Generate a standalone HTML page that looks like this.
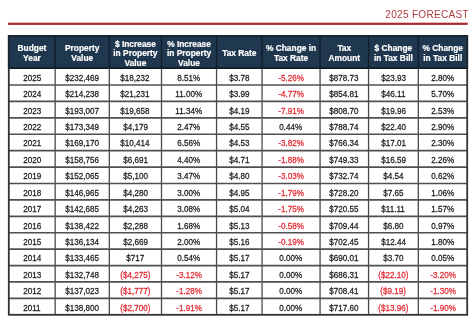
<!DOCTYPE html>
<html><head><meta charset="utf-8">
<style>
html,body{margin:0;padding:0;background:#fff;}
body{width:474px;height:326px;position:relative;overflow:hidden;will-change:transform;filter:blur(0.3px);font-family:"Liberation Sans",sans-serif;}
.t{position:absolute;right:5.0px;top:7.3px;font-size:10px;color:#b23a3f;letter-spacing:0.33px;line-height:16px;white-space:nowrap;}
.hd{position:absolute;left:8px;top:35.0px;width:459.5px;height:33.599999999999994px;background:#20384f;}
.c{position:absolute;display:flex;align-items:center;justify-content:center;text-align:center;white-space:nowrap;}
.h{color:#fff;font-weight:bold;-webkit-text-stroke:0.2px #fff;font-size:8.4px;line-height:9.5px;}
.d{color:#1e1e1e;font-size:8.25px;line-height:10px;padding-top:4.0px;box-sizing:border-box;-webkit-text-stroke:0.25px #1e1e1e;}
.d.r{-webkit-text-stroke:0.25px #e42a33;}
.r{color:#e42a33;}
.d span{display:inline-block;transform:scale(0.98,1.08);}
svg{position:absolute;left:0;top:0;}
</style></head><body>
<div class="t">2025 FORECAST</div>
<div class="hd"></div>

<div class="c h" style="left:8.80px;top:35.00px;width:46.35px;height:33.60px;padding-top:4.0px;box-sizing:border-box">Budget<br>Year</div>
<div class="c h" style="left:55.15px;top:35.00px;width:54.18px;height:33.60px;padding-top:4.0px;box-sizing:border-box">Property<br>Value</div>
<div class="c h" style="left:109.33px;top:35.00px;width:52.17px;height:33.60px;padding-top:4.0px;box-sizing:border-box">&#36; Increase<br>in Property<br>Value</div>
<div class="c h" style="left:161.50px;top:35.00px;width:55.05px;height:33.60px;padding-top:4.0px;box-sizing:border-box">% Increase<br>in Property<br>Value</div>
<div class="c h" style="left:216.55px;top:35.00px;width:45.52px;height:33.60px;padding-top:4.0px;box-sizing:border-box">Tax Rate</div>
<div class="c h" style="left:262.07px;top:35.00px;width:58.00px;height:33.60px;padding-top:4.0px;box-sizing:border-box">% Change in<br>Tax Rate</div>
<div class="c h" style="left:320.07px;top:35.00px;width:48.48px;height:33.60px;padding-top:4.0px;box-sizing:border-box">Tax<br>Amount</div>
<div class="c h" style="left:368.55px;top:35.00px;width:49.78px;height:33.60px;padding-top:4.0px;box-sizing:border-box">&#36; Change<br>in Tax Bill</div>
<div class="c h" style="left:418.33px;top:35.00px;width:48.87px;height:33.60px;padding-top:4.0px;box-sizing:border-box">% Change<br>in Tax Bill</div>
<div class="c d" style="left:8.80px;top:68.60px;width:46.35px;height:16.41px"><span>2025</span></div>
<div class="c d" style="left:55.15px;top:68.60px;width:54.18px;height:16.41px"><span>$232,469</span></div>
<div class="c d" style="left:109.33px;top:68.60px;width:52.17px;height:16.41px"><span>$18,232</span></div>
<div class="c d" style="left:161.50px;top:68.60px;width:55.05px;height:16.41px"><span>8.51%</span></div>
<div class="c d" style="left:216.55px;top:68.60px;width:45.52px;height:16.41px"><span>$3.78</span></div>
<div class="c d r" style="left:262.07px;top:68.60px;width:58.00px;height:16.41px"><span>-5.26%</span></div>
<div class="c d" style="left:320.07px;top:68.60px;width:48.48px;height:16.41px"><span>$878.73</span></div>
<div class="c d" style="left:368.55px;top:68.60px;width:49.78px;height:16.41px"><span>$23.93</span></div>
<div class="c d" style="left:418.33px;top:68.60px;width:48.87px;height:16.41px"><span>2.80%</span></div>
<div class="c d" style="left:8.80px;top:85.01px;width:46.35px;height:16.41px"><span>2024</span></div>
<div class="c d" style="left:55.15px;top:85.01px;width:54.18px;height:16.41px"><span>$214,238</span></div>
<div class="c d" style="left:109.33px;top:85.01px;width:52.17px;height:16.41px"><span>$21,231</span></div>
<div class="c d" style="left:161.50px;top:85.01px;width:55.05px;height:16.41px"><span>11.00%</span></div>
<div class="c d" style="left:216.55px;top:85.01px;width:45.52px;height:16.41px"><span>$3.99</span></div>
<div class="c d r" style="left:262.07px;top:85.01px;width:58.00px;height:16.41px"><span>-4.77%</span></div>
<div class="c d" style="left:320.07px;top:85.01px;width:48.48px;height:16.41px"><span>$854.81</span></div>
<div class="c d" style="left:368.55px;top:85.01px;width:49.78px;height:16.41px"><span>$46.11</span></div>
<div class="c d" style="left:418.33px;top:85.01px;width:48.87px;height:16.41px"><span>5.70%</span></div>
<div class="c d" style="left:8.80px;top:101.43px;width:46.35px;height:16.41px"><span>2023</span></div>
<div class="c d" style="left:55.15px;top:101.43px;width:54.18px;height:16.41px"><span>$193,007</span></div>
<div class="c d" style="left:109.33px;top:101.43px;width:52.17px;height:16.41px"><span>$19,658</span></div>
<div class="c d" style="left:161.50px;top:101.43px;width:55.05px;height:16.41px"><span>11.34%</span></div>
<div class="c d" style="left:216.55px;top:101.43px;width:45.52px;height:16.41px"><span>$4.19</span></div>
<div class="c d r" style="left:262.07px;top:101.43px;width:58.00px;height:16.41px"><span>-7.91%</span></div>
<div class="c d" style="left:320.07px;top:101.43px;width:48.48px;height:16.41px"><span>$808.70</span></div>
<div class="c d" style="left:368.55px;top:101.43px;width:49.78px;height:16.41px"><span>$19.96</span></div>
<div class="c d" style="left:418.33px;top:101.43px;width:48.87px;height:16.41px"><span>2.53%</span></div>
<div class="c d" style="left:8.80px;top:117.84px;width:46.35px;height:16.41px"><span>2022</span></div>
<div class="c d" style="left:55.15px;top:117.84px;width:54.18px;height:16.41px"><span>$173,349</span></div>
<div class="c d" style="left:109.33px;top:117.84px;width:52.17px;height:16.41px"><span>$4,179</span></div>
<div class="c d" style="left:161.50px;top:117.84px;width:55.05px;height:16.41px"><span>2.47%</span></div>
<div class="c d" style="left:216.55px;top:117.84px;width:45.52px;height:16.41px"><span>$4.55</span></div>
<div class="c d" style="left:262.07px;top:117.84px;width:58.00px;height:16.41px"><span>0.44%</span></div>
<div class="c d" style="left:320.07px;top:117.84px;width:48.48px;height:16.41px"><span>$788.74</span></div>
<div class="c d" style="left:368.55px;top:117.84px;width:49.78px;height:16.41px"><span>$22.40</span></div>
<div class="c d" style="left:418.33px;top:117.84px;width:48.87px;height:16.41px"><span>2.90%</span></div>
<div class="c d" style="left:8.80px;top:134.25px;width:46.35px;height:16.41px"><span>2021</span></div>
<div class="c d" style="left:55.15px;top:134.25px;width:54.18px;height:16.41px"><span>$169,170</span></div>
<div class="c d" style="left:109.33px;top:134.25px;width:52.17px;height:16.41px"><span>$10,414</span></div>
<div class="c d" style="left:161.50px;top:134.25px;width:55.05px;height:16.41px"><span>6.56%</span></div>
<div class="c d" style="left:216.55px;top:134.25px;width:45.52px;height:16.41px"><span>$4.53</span></div>
<div class="c d r" style="left:262.07px;top:134.25px;width:58.00px;height:16.41px"><span>-3.82%</span></div>
<div class="c d" style="left:320.07px;top:134.25px;width:48.48px;height:16.41px"><span>$766.34</span></div>
<div class="c d" style="left:368.55px;top:134.25px;width:49.78px;height:16.41px"><span>$17.01</span></div>
<div class="c d" style="left:418.33px;top:134.25px;width:48.87px;height:16.41px"><span>2.30%</span></div>
<div class="c d" style="left:8.80px;top:150.67px;width:46.35px;height:16.41px"><span>2020</span></div>
<div class="c d" style="left:55.15px;top:150.67px;width:54.18px;height:16.41px"><span>$158,756</span></div>
<div class="c d" style="left:109.33px;top:150.67px;width:52.17px;height:16.41px"><span>$6,691</span></div>
<div class="c d" style="left:161.50px;top:150.67px;width:55.05px;height:16.41px"><span>4.40%</span></div>
<div class="c d" style="left:216.55px;top:150.67px;width:45.52px;height:16.41px"><span>$4.71</span></div>
<div class="c d r" style="left:262.07px;top:150.67px;width:58.00px;height:16.41px"><span>-1.88%</span></div>
<div class="c d" style="left:320.07px;top:150.67px;width:48.48px;height:16.41px"><span>$749.33</span></div>
<div class="c d" style="left:368.55px;top:150.67px;width:49.78px;height:16.41px"><span>$16.59</span></div>
<div class="c d" style="left:418.33px;top:150.67px;width:48.87px;height:16.41px"><span>2.26%</span></div>
<div class="c d" style="left:8.80px;top:167.08px;width:46.35px;height:16.41px"><span>2019</span></div>
<div class="c d" style="left:55.15px;top:167.08px;width:54.18px;height:16.41px"><span>$152,065</span></div>
<div class="c d" style="left:109.33px;top:167.08px;width:52.17px;height:16.41px"><span>$5,100</span></div>
<div class="c d" style="left:161.50px;top:167.08px;width:55.05px;height:16.41px"><span>3.47%</span></div>
<div class="c d" style="left:216.55px;top:167.08px;width:45.52px;height:16.41px"><span>$4.80</span></div>
<div class="c d r" style="left:262.07px;top:167.08px;width:58.00px;height:16.41px"><span>-3.03%</span></div>
<div class="c d" style="left:320.07px;top:167.08px;width:48.48px;height:16.41px"><span>$732.74</span></div>
<div class="c d" style="left:368.55px;top:167.08px;width:49.78px;height:16.41px"><span>$4.54</span></div>
<div class="c d" style="left:418.33px;top:167.08px;width:48.87px;height:16.41px"><span>0.62%</span></div>
<div class="c d" style="left:8.80px;top:183.49px;width:46.35px;height:16.41px"><span>2018</span></div>
<div class="c d" style="left:55.15px;top:183.49px;width:54.18px;height:16.41px"><span>$146,965</span></div>
<div class="c d" style="left:109.33px;top:183.49px;width:52.17px;height:16.41px"><span>$4,280</span></div>
<div class="c d" style="left:161.50px;top:183.49px;width:55.05px;height:16.41px"><span>3.00%</span></div>
<div class="c d" style="left:216.55px;top:183.49px;width:45.52px;height:16.41px"><span>$4.95</span></div>
<div class="c d r" style="left:262.07px;top:183.49px;width:58.00px;height:16.41px"><span>-1.79%</span></div>
<div class="c d" style="left:320.07px;top:183.49px;width:48.48px;height:16.41px"><span>$728.20</span></div>
<div class="c d" style="left:368.55px;top:183.49px;width:49.78px;height:16.41px"><span>$7.65</span></div>
<div class="c d" style="left:418.33px;top:183.49px;width:48.87px;height:16.41px"><span>1.06%</span></div>
<div class="c d" style="left:8.80px;top:199.91px;width:46.35px;height:16.41px"><span>2017</span></div>
<div class="c d" style="left:55.15px;top:199.91px;width:54.18px;height:16.41px"><span>$142,685</span></div>
<div class="c d" style="left:109.33px;top:199.91px;width:52.17px;height:16.41px"><span>$4,263</span></div>
<div class="c d" style="left:161.50px;top:199.91px;width:55.05px;height:16.41px"><span>3.08%</span></div>
<div class="c d" style="left:216.55px;top:199.91px;width:45.52px;height:16.41px"><span>$5.04</span></div>
<div class="c d r" style="left:262.07px;top:199.91px;width:58.00px;height:16.41px"><span>-1.75%</span></div>
<div class="c d" style="left:320.07px;top:199.91px;width:48.48px;height:16.41px"><span>$720.55</span></div>
<div class="c d" style="left:368.55px;top:199.91px;width:49.78px;height:16.41px"><span>$11.11</span></div>
<div class="c d" style="left:418.33px;top:199.91px;width:48.87px;height:16.41px"><span>1.57%</span></div>
<div class="c d" style="left:8.80px;top:216.32px;width:46.35px;height:16.41px"><span>2016</span></div>
<div class="c d" style="left:55.15px;top:216.32px;width:54.18px;height:16.41px"><span>$138,422</span></div>
<div class="c d" style="left:109.33px;top:216.32px;width:52.17px;height:16.41px"><span>$2,288</span></div>
<div class="c d" style="left:161.50px;top:216.32px;width:55.05px;height:16.41px"><span>1.68%</span></div>
<div class="c d" style="left:216.55px;top:216.32px;width:45.52px;height:16.41px"><span>$5.13</span></div>
<div class="c d r" style="left:262.07px;top:216.32px;width:58.00px;height:16.41px"><span>-0.58%</span></div>
<div class="c d" style="left:320.07px;top:216.32px;width:48.48px;height:16.41px"><span>$709.44</span></div>
<div class="c d" style="left:368.55px;top:216.32px;width:49.78px;height:16.41px"><span>$6.80</span></div>
<div class="c d" style="left:418.33px;top:216.32px;width:48.87px;height:16.41px"><span>0.97%</span></div>
<div class="c d" style="left:8.80px;top:232.73px;width:46.35px;height:16.41px"><span>2015</span></div>
<div class="c d" style="left:55.15px;top:232.73px;width:54.18px;height:16.41px"><span>$136,134</span></div>
<div class="c d" style="left:109.33px;top:232.73px;width:52.17px;height:16.41px"><span>$2,669</span></div>
<div class="c d" style="left:161.50px;top:232.73px;width:55.05px;height:16.41px"><span>2.00%</span></div>
<div class="c d" style="left:216.55px;top:232.73px;width:45.52px;height:16.41px"><span>$5.16</span></div>
<div class="c d r" style="left:262.07px;top:232.73px;width:58.00px;height:16.41px"><span>-0.19%</span></div>
<div class="c d" style="left:320.07px;top:232.73px;width:48.48px;height:16.41px"><span>$702.45</span></div>
<div class="c d" style="left:368.55px;top:232.73px;width:49.78px;height:16.41px"><span>$12.44</span></div>
<div class="c d" style="left:418.33px;top:232.73px;width:48.87px;height:16.41px"><span>1.80%</span></div>
<div class="c d" style="left:8.80px;top:249.15px;width:46.35px;height:16.41px"><span>2014</span></div>
<div class="c d" style="left:55.15px;top:249.15px;width:54.18px;height:16.41px"><span>$133,465</span></div>
<div class="c d" style="left:109.33px;top:249.15px;width:52.17px;height:16.41px"><span>$717</span></div>
<div class="c d" style="left:161.50px;top:249.15px;width:55.05px;height:16.41px"><span>0.54%</span></div>
<div class="c d" style="left:216.55px;top:249.15px;width:45.52px;height:16.41px"><span>$5.17</span></div>
<div class="c d" style="left:262.07px;top:249.15px;width:58.00px;height:16.41px"><span>0.00%</span></div>
<div class="c d" style="left:320.07px;top:249.15px;width:48.48px;height:16.41px"><span>$690.01</span></div>
<div class="c d" style="left:368.55px;top:249.15px;width:49.78px;height:16.41px"><span>$3.70</span></div>
<div class="c d" style="left:418.33px;top:249.15px;width:48.87px;height:16.41px"><span>0.05%</span></div>
<div class="c d" style="left:8.80px;top:265.56px;width:46.35px;height:16.41px"><span>2013</span></div>
<div class="c d" style="left:55.15px;top:265.56px;width:54.18px;height:16.41px"><span>$132,748</span></div>
<div class="c d r" style="left:109.33px;top:265.56px;width:52.17px;height:16.41px"><span>($4,275)</span></div>
<div class="c d r" style="left:161.50px;top:265.56px;width:55.05px;height:16.41px"><span>-3.12%</span></div>
<div class="c d" style="left:216.55px;top:265.56px;width:45.52px;height:16.41px"><span>$5.17</span></div>
<div class="c d" style="left:262.07px;top:265.56px;width:58.00px;height:16.41px"><span>0.00%</span></div>
<div class="c d" style="left:320.07px;top:265.56px;width:48.48px;height:16.41px"><span>$686.31</span></div>
<div class="c d r" style="left:368.55px;top:265.56px;width:49.78px;height:16.41px"><span>($22.10)</span></div>
<div class="c d r" style="left:418.33px;top:265.56px;width:48.87px;height:16.41px"><span>-3.20%</span></div>
<div class="c d" style="left:8.80px;top:281.97px;width:46.35px;height:16.41px"><span>2012</span></div>
<div class="c d" style="left:55.15px;top:281.97px;width:54.18px;height:16.41px"><span>$137,023</span></div>
<div class="c d r" style="left:109.33px;top:281.97px;width:52.17px;height:16.41px"><span>($1,777)</span></div>
<div class="c d r" style="left:161.50px;top:281.97px;width:55.05px;height:16.41px"><span>-1.28%</span></div>
<div class="c d" style="left:216.55px;top:281.97px;width:45.52px;height:16.41px"><span>$5.17</span></div>
<div class="c d" style="left:262.07px;top:281.97px;width:58.00px;height:16.41px"><span>0.00%</span></div>
<div class="c d" style="left:320.07px;top:281.97px;width:48.48px;height:16.41px"><span>$708.41</span></div>
<div class="c d r" style="left:368.55px;top:281.97px;width:49.78px;height:16.41px"><span>($9.19)</span></div>
<div class="c d r" style="left:418.33px;top:281.97px;width:48.87px;height:16.41px"><span>-1.30%</span></div>
<div class="c d" style="left:8.80px;top:298.39px;width:46.35px;height:16.41px"><span>2011</span></div>
<div class="c d" style="left:55.15px;top:298.39px;width:54.18px;height:16.41px"><span>$138,800</span></div>
<div class="c d r" style="left:109.33px;top:298.39px;width:52.17px;height:16.41px"><span>($2,700)</span></div>
<div class="c d r" style="left:161.50px;top:298.39px;width:55.05px;height:16.41px"><span>-1.91%</span></div>
<div class="c d" style="left:216.55px;top:298.39px;width:45.52px;height:16.41px"><span>$5.17</span></div>
<div class="c d" style="left:262.07px;top:298.39px;width:58.00px;height:16.41px"><span>0.00%</span></div>
<div class="c d" style="left:320.07px;top:298.39px;width:48.48px;height:16.41px"><span>$717.60</span></div>
<div class="c d r" style="left:368.55px;top:298.39px;width:49.78px;height:16.41px"><span>($13.96)</span></div>
<div class="c d r" style="left:418.33px;top:298.39px;width:48.87px;height:16.41px"><span>-1.90%</span></div>
<svg width="474" height="326" viewBox="0 0 474 326" shape-rendering="geometricPrecision">
<rect x="8" y="22.7" width="459.7" height="2.2" fill="#a9282e"/>
<line x1="55.15" y1="35.0" x2="55.15" y2="68.6" stroke="#111d29" stroke-width="1.4"/>
<line x1="109.33" y1="35.0" x2="109.33" y2="68.6" stroke="#111d29" stroke-width="1.4"/>
<line x1="161.5" y1="35.0" x2="161.5" y2="68.6" stroke="#111d29" stroke-width="1.4"/>
<line x1="216.55" y1="35.0" x2="216.55" y2="68.6" stroke="#111d29" stroke-width="1.4"/>
<line x1="262.07" y1="35.0" x2="262.07" y2="68.6" stroke="#111d29" stroke-width="1.4"/>
<line x1="320.07" y1="35.0" x2="320.07" y2="68.6" stroke="#111d29" stroke-width="1.4"/>
<line x1="368.55" y1="35.0" x2="368.55" y2="68.6" stroke="#111d29" stroke-width="1.4"/>
<line x1="418.33" y1="35.0" x2="418.33" y2="68.6" stroke="#111d29" stroke-width="1.4"/>
<line x1="8" y1="68.19999999999999" x2="468" y2="68.19999999999999" stroke="#0c1620" stroke-width="1.4"/>
<line x1="55.15" y1="68.6" x2="55.15" y2="314.8" stroke="#4a4a4a" stroke-width="1.3"/>
<line x1="109.33" y1="68.6" x2="109.33" y2="314.8" stroke="#4a4a4a" stroke-width="1.3"/>
<line x1="161.5" y1="68.6" x2="161.5" y2="314.8" stroke="#4a4a4a" stroke-width="1.3"/>
<line x1="216.55" y1="68.6" x2="216.55" y2="314.8" stroke="#4a4a4a" stroke-width="1.3"/>
<line x1="262.07" y1="68.6" x2="262.07" y2="314.8" stroke="#4a4a4a" stroke-width="1.3"/>
<line x1="320.07" y1="68.6" x2="320.07" y2="314.8" stroke="#4a4a4a" stroke-width="1.3"/>
<line x1="368.55" y1="68.6" x2="368.55" y2="314.8" stroke="#4a4a4a" stroke-width="1.3"/>
<line x1="418.33" y1="68.6" x2="418.33" y2="314.8" stroke="#4a4a4a" stroke-width="1.3"/>
<line x1="8" y1="85.01" x2="468" y2="85.01" stroke="#505050" stroke-width="1.7"/>
<line x1="8" y1="101.43" x2="468" y2="101.43" stroke="#505050" stroke-width="1.7"/>
<line x1="8" y1="117.84" x2="468" y2="117.84" stroke="#505050" stroke-width="1.7"/>
<line x1="8" y1="134.25" x2="468" y2="134.25" stroke="#505050" stroke-width="1.7"/>
<line x1="8" y1="150.67" x2="468" y2="150.67" stroke="#505050" stroke-width="1.7"/>
<line x1="8" y1="167.08" x2="468" y2="167.08" stroke="#505050" stroke-width="1.7"/>
<line x1="8" y1="183.49" x2="468" y2="183.49" stroke="#505050" stroke-width="1.7"/>
<line x1="8" y1="199.91" x2="468" y2="199.91" stroke="#505050" stroke-width="1.7"/>
<line x1="8" y1="216.32" x2="468" y2="216.32" stroke="#505050" stroke-width="1.7"/>
<line x1="8" y1="232.73" x2="468" y2="232.73" stroke="#505050" stroke-width="1.7"/>
<line x1="8" y1="249.15" x2="468" y2="249.15" stroke="#505050" stroke-width="1.7"/>
<line x1="8" y1="265.56" x2="468" y2="265.56" stroke="#505050" stroke-width="1.7"/>
<line x1="8" y1="281.97" x2="468" y2="281.97" stroke="#505050" stroke-width="1.7"/>
<line x1="8" y1="298.39" x2="468" y2="298.39" stroke="#505050" stroke-width="1.7"/>
<rect x="8.8" y="35.9" width="458.4" height="278.90000000000003" fill="none" stroke="#333333" stroke-width="1.8"/>
<path d="M8.8 68.6 V35.9 H467.2 V68.6" fill="none" stroke="#18242f" stroke-width="1.8"/>
</svg>

</body></html>
